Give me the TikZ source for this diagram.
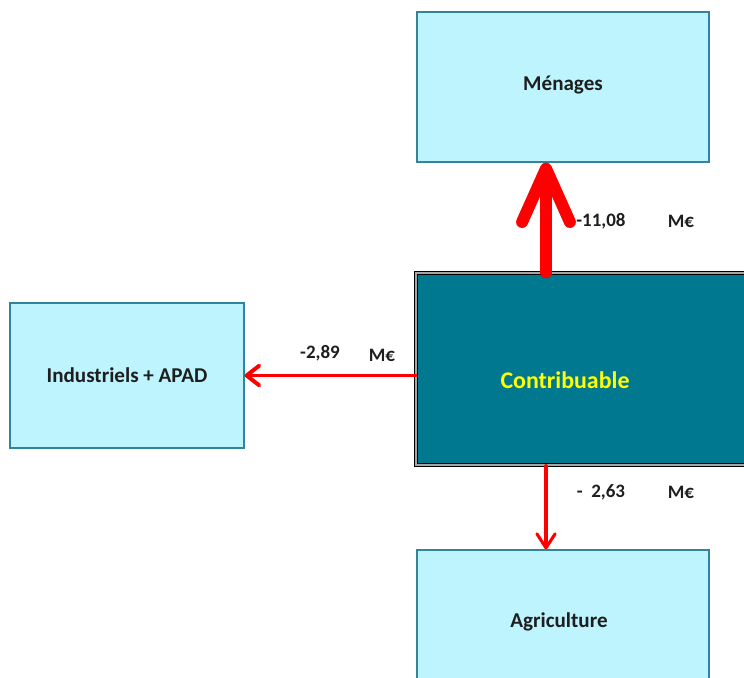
\documentclass[tikz,border=0pt]{standalone}
\usepackage{fontspec}
\setmainfont{Carlito}
\usetikzlibrary{arrows.meta}
\usetikzlibrary{positioning}
\definecolor{flcyan}{HTML}{BEF4FD}
\definecolor{flborder}{HTML}{31849B}
\definecolor{flteal}{HTML}{007890}
\definecolor{flink}{HTML}{1E1E1E}
\definecolor{flred}{HTML}{FF0000}
\definecolor{flyellow}{HTML}{FFFF00}
\tikzset{
  flbox/.style={
    draw=flborder, fill=flcyan, line width=0.8pt, inner sep=0pt,
    font=\bfseries\fontsize{15}{18}\selectfont, text=flink},
  flhub/.style={
    draw=black, double=gray!70, double distance=1.2pt, line width=0.9pt,
    fill=flteal, inner sep=0pt},
  flarrow/.style={draw=flred, line cap=round},
  fllabel/.style={font=\bfseries\fontsize{13.5}{16}\selectfont, text=flink},
}

\begin{document}
\begin{tikzpicture}[x=0.025cm, y=-0.025cm]
\useasboundingbox (0, 0) rectangle (744, 678);
\clip (0, 0) rectangle (744, 678);

% Boxes around the hub.
\node[flbox, minimum width=7.3cm, minimum height=3.75cm]
  (menages) at (563, 87) {};
\node[flbox, draw=none, fill=none] (menagestxt) at (563, 85) {Ménages};
\node[flbox, minimum width=5.85cm, minimum height=3.625cm]
  (indus) at (127, 375.5) {Industriels + APAD};
\node[flbox, minimum width=7.3cm, minimum height=3.75cm]
  (agri) at (563, 625) {};
\node[flbox, draw=none, fill=none] (agritxt) at (559, 622) {Agriculture};

% Contribuable, running off the right edge.
\node[flhub, minimum width=8.6cm, minimum height=4.8cm]
  (contrib) at (588, 369) {};
\node[font=\bfseries\fontsize{17}{20}\selectfont, text=flyellow]
  (contribtxt) at (565, 380) {Contribuable};

% Flows out of the hub.
\coordinate (vaxis) at (546, 369);
\draw[flarrow, line width=8.5pt,
      -{Straight Barb[length=38pt, width=34pt, round]}]
  (vaxis |- contrib.north) -- (vaxis |- menages.south);
\draw[flarrow, line width=2.8pt,
      -{Straight Barb[length=9pt, width=14pt, round]}]
  (contrib.west |- indus.east) -- (indus.east);
\draw[flarrow, line width=2.2pt,
      -{Straight Barb[length=10pt, width=13pt, round]}]
  (vaxis |- contrib.south) -- (vaxis |- agri.north);

% Amounts.
\node[fllabel] (upval) at (601, 221) {-11,08};
\node[fllabel] (upunit) at (681, 221) {M€};
\node[fllabel] (leftval) at (320, 353) {-2,89};
\node[fllabel] (leftunit) at (382, 355) {M€};
\node[fllabel] (downval) at (601, 492) {-\ \ 2,63};
\node[fllabel] (downunit) at (681, 492) {M€};

\end{tikzpicture}
\end{document}
